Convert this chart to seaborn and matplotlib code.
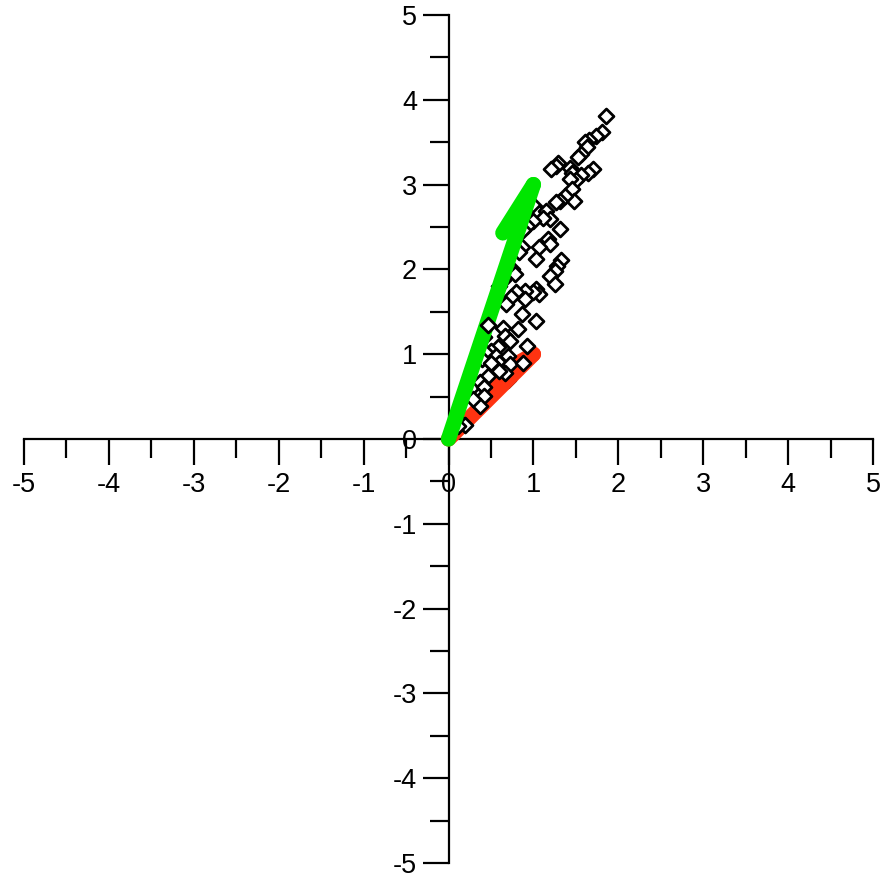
import matplotlib
matplotlib.use("Agg")
import matplotlib.pyplot as plt
import seaborn as sns
import pandas as pd

# ---- data ----
pts_x = [1.86, 1.81, 1.74, 1.66, 1.61, 1.63, 1.56, 1.53, 1.29, 1.27, 1.21, 1.43, 1.45, 1.70,
         1.64, 1.56, 1.50, 1.43, 1.46, 1.48, 1.37, 1.31, 1.27, 1.01, 1.07, 1.15, 1.19, 1.11,
         0.99, 0.93, 0.88, 1.31, 1.17, 1.19, 1.07, 0.86, 0.83, 1.03, 1.33, 1.28, 0.75, 1.25,
         1.20, 1.25, 0.78, 0.64, 0.60, 1.03, 1.07, 0.99, 0.90, 0.80, 0.74, 0.90, 0.68, 0.86,
         1.03, 0.64, 0.82, 0.66, 0.42, 0.72, 0.92, 0.58, 0.50, 0.44, 0.39, 0.56, 0.70,
         0.60, 0.54, 0.50, 0.72, 0.88, 0.66, 0.60, 0.46, 0.37, 0.42, 0.35, 0.42, 0.37,
         0.29, 0.15, 0.19, 0.11]
pts_y = [3.81, 3.62, 3.57, 3.53, 3.50, 3.44, 3.36, 3.33, 3.26, 3.22, 3.18, 3.20, 3.14, 3.18,
         3.14, 3.11, 3.05, 3.07, 2.95, 2.81, 2.87, 2.81, 2.79, 2.75, 2.67, 2.69, 2.59, 2.61,
         2.57, 2.51, 2.46, 2.48, 2.36, 2.30, 2.26, 2.26, 2.20, 2.12, 2.11, 2.04, 2.01, 1.98,
         1.92, 1.83, 1.94, 1.87, 1.81, 1.77, 1.71, 1.73, 1.75, 1.73, 1.67, 1.65, 1.59, 1.47,
         1.39, 1.31, 1.30, 1.22, 1.20, 1.16, 1.10, 1.08, 1.04, 1.02, 0.94, 0.98, 0.98,
         0.90, 0.86, 0.90, 0.88, 0.90, 0.78, 0.80, 0.74, 0.67, 0.61, 0.51, 0.51, 0.39,
         0.47, 0.19, 0.17, 0.15]
# point drawn above the green arrow
top_x = [0.46]
top_y = [1.35]
# point hidden beneath the red arrow
low_x = [0.70]
low_y = [0.70]

# vectors: [green, red]
vec_x = [1.0, 1.0]
vec_y = [3.0, 1.0]
barb_x = [0.64, 0.41]
barb_y = [2.43, 0.66]
vec_colors = ["#00E600", "#FF3311"]

ticks = [-5, -4, -3, -2, -1, 0, 1, 2, 3, 4, 5]
tick_labels = [str(t) for t in ticks]
minor_ticks = [-4.5, -3.5, -2.5, -1.5, -0.5, 0.5, 1.5, 2.5, 3.5, 4.5]

# ---- plot ----
sns.set_style("white")
plt.rcParams["font.family"] = ["Liberation Sans", "DejaVu Sans"]

fig = plt.figure(figsize=(8.83, 8.82), dpi=100)
ax = fig.add_axes([24 / 883, 19 / 882, 849 / 883, 848 / 882])

mk = dict(marker="D", s=58, facecolor="white", edgecolor="black", linewidth=2.0)

sns.scatterplot(data=pd.DataFrame({"x": low_x, "y": low_y}), x="x", y="y",
                ax=ax, zorder=1.5, **mk)

for i, z in [(1, 2), (0, 5)]:
    ax.plot([0, vec_x[i]], [0, vec_y[i]], color=vec_colors[i], lw=11,
            solid_capstyle="round", zorder=z)
    ax.plot([vec_x[i], barb_x[i]], [vec_y[i], barb_y[i]], color=vec_colors[i], lw=11,
            solid_capstyle="round", zorder=z)

sns.scatterplot(data=pd.DataFrame({"x": pts_x, "y": pts_y}), x="x", y="y",
                ax=ax, zorder=3, **mk)
sns.scatterplot(data=pd.DataFrame({"x": top_x, "y": top_y}), x="x", y="y",
                ax=ax, zorder=6, **mk)

ax.set_xlim(-5, 5)
ax.set_ylim(-5, 5)
ax.set_xlabel("")
ax.set_ylabel("")

for s in ["top", "right"]:
    ax.spines[s].set_visible(False)
ax.spines["left"].set_position(("data", 0))
ax.spines["bottom"].set_position(("data", 0))
for s in ["left", "bottom"]:
    ax.spines[s].set_linewidth(1.6)
    ax.spines[s].set_color("black")
    ax.spines[s].set_zorder(1)

ax.set_xticks(ticks)
ax.set_xticklabels(tick_labels)
ax.set_yticks(ticks)
ax.set_yticklabels(tick_labels)
ax.set_xticks(minor_ticks, minor=True)
ax.set_yticks(minor_ticks, minor=True)

ax.tick_params(which="major", direction="out", length=18.7, width=1.6,
               labelsize=19.5, color="black", labelcolor="black",
               bottom=True, left=True)
ax.tick_params(which="minor", direction="out", length=13.7, width=1.6,
               color="black", bottom=True, left=True)
ax.tick_params(axis="x", which="major", pad=5)
ax.tick_params(axis="y", which="major", pad=4)
ax.grid(False)
ax.set_facecolor("white")
ax.patch.set_alpha(0)

fig.savefig("out.png", dpi=100, facecolor="white")
